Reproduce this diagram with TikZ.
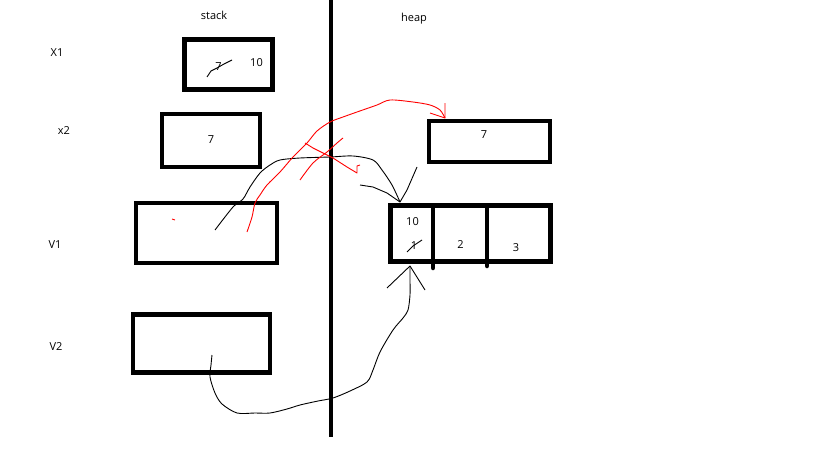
\documentclass[tikz,border=0pt]{standalone}
\usepackage{fontspec}
\setmainfont{Open Sans}
\usetikzlibrary{positioning}
\tikzstyle{cell} = [rectangle, draw, line width=4.5pt, inner sep=0pt, outer sep=0pt]
\tikzstyle{txt} = [inner sep=0pt, font=\fontsize{11}{13}\selectfont]
\tikzstyle{wall} = [line width=4.5pt]
\tikzstyle{bar} = [line width=4.5pt, line cap=round]
\tikzstyle{ink} = [line width=0.9pt, black, line join=round]
\tikzstyle{redink} = [line width=0.9pt, red, line join=round]

\begin{document}
\begin{tikzpicture}[x=1pt, y=-1pt]
	\useasboundingbox[fill=white] (0,0) rectangle (819,460);

	% Stack / heap border
	\coordinate (walltop) at (331,0);
	\coordinate (wallend) at (331,437);
	\draw[wall] (walltop) -- (wallend);

	% Headings
	\node (stack) [txt] at (214,15) {stack};
	\node (heap) [txt] at (414,19) {heap};

	% Variable names
	\node (nx1) [txt] at (57,53) {X1};
	\node (nx2) [txt] at (64,131) {x2};
	\node (nv1) [txt] at (55,245) {V1};
	\node (nv2) [txt] at (56,347) {V2};

	% Stack boxes
	\node (x1) [cell, minimum width=88pt, minimum height=50pt] at (228.5,64.5) {};
	\node (x2) [cell, minimum width=98pt, minimum height=53pt] at (211,140.5) {};
	\node (v1) [cell, minimum width=141pt, minimum height=60pt] at (206.5,233) {};
	\node (v2) [cell, minimum width=137pt, minimum height=58pt] at (201.5,343.5) {};

	% Heap boxes
	\node (h7) [cell, minimum width=121pt, minimum height=41pt] at (489.5,141.5) {};
	\node (arr) [cell, minimum width=160pt, minimum height=56pt] at (470.5,233.5) {};
	\draw[bar] (433,205.5) -- (433,268);
	\draw[bar] (487,205.5) -- (487,266);

	% Values
	\node (x1old) [txt] at (218.5,67) {7};
	\node (x1new) [txt] at (256.5,63) {10};
	\node (x2val) [txt] at (211,140) {7};
	\node (h7val) [txt] at (484,135) {7};
	\node (a0new) [txt] at (412.5,221.5) {10};
	\node (a0old) [txt] at (414,246) {1};
	\node (a1) [txt] at (460.5,244.5) {2};
	\node (a2) [txt] at (516,247.5) {3};

	% Strike-outs
	\draw[ink] (207,77) -- (211,71) -- (217,68) -- (224,64) -- (232,60);
	\draw[ink] (407,252) -- (413,246) -- (422,240);
	\draw[redink] (172,219) -- (175,220);

	% V1 -> array (black)
	\coordinate (v1p) at (215,230);
	\coordinate (arrtip) at (400,202);
	\draw[ink] plot[smooth] coordinates {(v1p) (233,207) (243,199) (250,187) (260,173) (270,165) (280,160) (300,158) (330,157) (353,156) (373,160) (382,170) (392,185) (arrtip)};
	\draw[ink] (360,185) -- (373,187) -- (387,193) -- (arrtip) -- (407,190) -- (417,167);

	% V1 -> heap 7 (red)
	\coordinate (v1q) at (247,232);
	\coordinate (h7tip) at (445,118);
	\draw[redink] plot[smooth] coordinates {(v1q) (252,217) (255,203) (260,195) (267,185) (280,172) (293,157) (307,143) (317,131) (330,122) (343,117) (357,112) (377,105) (390,100) (413,102) (430,105) (440,110) (h7tip)};
	\draw[redink] (430,113) -- (h7tip) -- (445,103);

	% crossed red strokes
	\draw[redink] plot[smooth] coordinates {(300,180) (313,163) (327,152) (337,143) (343,138)};
	\draw[redink] (305,143) -- (313,148) -- (333,158) -- (347,167) -- (357,173) -- (357,166) -- (360,165);

	% V2 -> array (black)
	\coordinate (v2p) at (212,355);
	\coordinate (arrbot) at (410,266);
	\draw[ink] plot[smooth] coordinates {(v2p) (211,365) (210,377) (215,393) (222,404) (237,413) (255,413) (270,413) (287,409) (300,405) (318,401) (333,398) (350,391) (367,382) (373,370) (380,352) (393,330) (403,318) (408,310) (410,295) (410,280) (arrbot)};
	\draw[ink] (387,288) -- (arrbot) -- (425,290);

\end{tikzpicture}
\end{document}
